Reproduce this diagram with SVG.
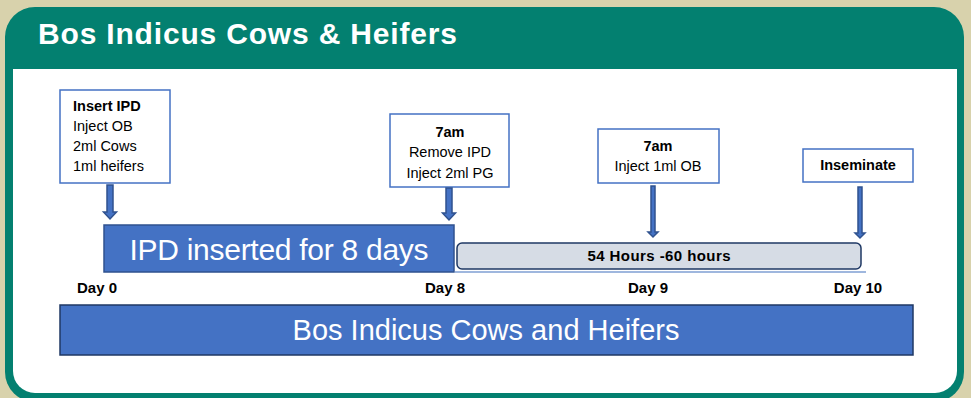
<svg xmlns="http://www.w3.org/2000/svg" width="971" height="398" viewBox="0 0 971 398">
<defs>
<style>
.box{fill:#fff;stroke:#4472C4;stroke-width:1.5}
.t{font-family:"Liberation Sans",Arial,sans-serif;font-size:14.5px;fill:#000}
.b{font-weight:bold}
.day{font-family:"Liberation Sans",Arial,sans-serif;font-size:15px;font-weight:bold;fill:#000}
.arrow{fill:#4472C4;stroke:#2F528F;stroke-width:1.5;stroke-linejoin:miter}
.bar{fill:#4472C4;stroke:#1F3864;stroke-width:1.5}
.wt{font-family:"Liberation Sans",Arial,sans-serif;fill:#fff}
</style>
</defs>
<rect x="0" y="0" width="971" height="398" fill="#D8D2AC"/>
<g id="panel">
<rect x="5" y="7" width="959" height="395" rx="30" fill="#038070"/>
<path d="M13,69 H957 V371 A22,22 0 0 1 935,393 H35 A22,22 0 0 1 13,371 Z" fill="#fff"/>
<text x="38" y="44" font-family="'Liberation Sans',Arial,sans-serif" font-size="30" font-weight="bold" fill="#fff" textLength="419">Bos Indicus Cows &amp; Heifers</text>
</g>
<g id="box-day0">
<rect class="box" x="60" y="90" width="110" height="93"/>
<text class="t b" x="73" y="111">Insert IPD</text>
<text class="t" x="73" y="131">Inject OB</text>
<text class="t" x="73" y="151">2ml Cows</text>
<text class="t" x="73" y="171">1ml heifers</text>
</g>
<g id="box-day8">
<rect class="box" x="390" y="114" width="119" height="73"/>
<text class="t b" x="450" y="137" text-anchor="middle">7am</text>
<text class="t" x="450" y="157" text-anchor="middle">Remove IPD</text>
<text class="t" x="450" y="178" text-anchor="middle">Inject 2ml PG</text>
</g>
<g id="box-day9">
<rect class="box" x="598" y="129" width="121" height="54"/>
<text class="t b" x="658" y="151" text-anchor="middle">7am</text>
<text class="t" x="658" y="171" text-anchor="middle">Inject 1ml OB</text>
</g>
<g id="box-day10">
<rect class="box" x="803" y="149" width="110" height="33"/>
<text class="t b" x="858" y="170" text-anchor="middle">Inseminate</text>
</g>
<g id="ipd-bar">
<rect class="bar" x="104" y="225" width="350" height="47" style="stroke:#2F528F"/>
<text class="wt" x="279" y="260" font-size="30" text-anchor="middle" textLength="299">IPD inserted for 8 days</text>
</g>
<g id="hours-bar">
<rect x="457" y="243" width="404" height="26" rx="5" fill="#D6DCE5" stroke="#1F3864" stroke-width="1.5"/>
<text class="day" x="659" y="261" text-anchor="middle" textLength="143">54 Hours -60 hours</text>
</g>
<g id="days">
<text class="day" x="97" y="293" text-anchor="middle">Day 0</text>
<text class="day" x="445" y="293" text-anchor="middle">Day 8</text>
<text class="day" x="648" y="293" text-anchor="middle">Day 9</text>
<text class="day" x="858" y="293" text-anchor="middle">Day 10</text>
</g>
<g id="bottom-bar">
<rect class="bar" x="60" y="305" width="853" height="50"/>
<text class="wt" x="486" y="340" font-size="29" text-anchor="middle">Bos Indicus Cows and Heifers</text>
</g>
<g id="connectors">
<line x1="455" y1="272" x2="866" y2="272" stroke="#7F9FD3" stroke-width="1.5"/>
<path class="arrow" d="M107,185 H113 V212 H116.5 L110,219 L103.5,212 H107 Z"/>
<path class="arrow" d="M446,188 H452 V213 H455.5 L449,220 L442.5,213 H446 Z"/>
<path class="arrow" d="M651,186 H655 V232 H658 L653,237 L648,232 H651 Z"/>
<path class="arrow" d="M858,187 H862 V233 H865 L860,238 L855,233 H858 Z"/>
</g>
</svg>
